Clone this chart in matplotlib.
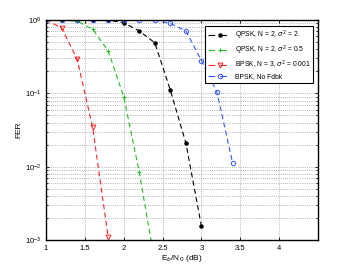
import numpy as np
import matplotlib
matplotlib.use('Agg')
import matplotlib.pyplot as plt

plt.rcParams['font.family'] = ['Liberation Sans', 'DejaVu Sans']

# Eb/N0 (dB) and frame error rates
snr_qpsk2 = [1.0, 1.2, 1.4, 1.6, 1.8, 2.0, 2.2, 2.4, 2.6, 2.8, 3.0]
fer_qpsk2 = [1.0, 1.0, 1.0, 1.0, 1.0, 0.92, 0.71, 0.49, 0.111, 0.021, 0.00155]

snr_qpsk05 = [1.0, 1.2, 1.4, 1.6, 1.8, 2.0, 2.2, 2.4]
fer_qpsk05 = [1.0, 1.0, 0.97, 0.75, 0.38, 0.09, 0.0085, 0.0005]

snr_bpsk3 = [1.0, 1.2, 1.4, 1.6, 1.8]
fer_bpsk3 = [1.0, 0.785, 0.295, 0.0345, 0.0011]

snr_nofb = [1.0, 1.2, 1.4, 1.6, 1.8, 2.0, 2.2, 2.4, 2.6, 2.8, 3.0, 3.2, 3.4]
fer_nofb = [1.0, 1.0, 1.0, 1.0, 1.0, 1.0, 1.0, 1.0, 0.9, 0.71, 0.28, 0.104, 0.0114]

labels = ['QPSK, N = 2, $\\sigma^2$ = 2',
          'QPSK, N = 2, $\\sigma^2$ = 0.5',
          'BPSK, N = 3, $\\sigma^2$ = 0.001',
          'BPSK, No Fdbk']

fig = plt.figure(figsize=(3.51, 2.71), dpi=100)
ax = fig.add_axes([0.131, 0.114, 0.775, 0.812])

dash = (4.5, 3)
ax.semilogy(snr_qpsk2, fer_qpsk2, 'k--', dashes=dash, marker='.', ms=4.5, lw=0.8, label=labels[0])
ax.semilogy(snr_qpsk05, fer_qpsk05, '--', dashes=dash, color='#22bb22', marker='+', ms=3.5, mew=0.8, lw=0.8, label=labels[1])
ax.semilogy(snr_bpsk3, fer_bpsk3, '--', dashes=dash, color='#ff2222', marker='v', ms=3.5, mfc='none', mew=0.7, lw=0.8, label=labels[2])
ax.semilogy(snr_nofb, fer_nofb, '--', dashes=dash, color='#3355ff', marker='o', ms=3.2, mfc='none', mew=0.7, lw=0.8, label=labels[3])

ax.set_xlim(1, 4.5)
ax.set_ylim(1e-3, 1)
ax.set_xticks([1, 1.5, 2, 2.5, 3, 3.5, 4])
ax.set_xticklabels(['1', '1.5', '2', '2.5', '3', '3.5', '4'])
ax.grid(True, which='major', ls=':', color='#999999', lw=0.6)
ax.grid(True, which='minor', axis='y', ls=':', color='#999999', lw=0.6)
ax.tick_params(which='both', direction='in', labelsize=5.5, top=True, right=True, length=2.5, width=0.6)
ax.tick_params(which='minor', length=1.5)
for s in ax.spines.values():
    s.set_linewidth(1.0)

ax.set_xlabel('E$_b$/N$_0$ (dB)', fontsize=6, labelpad=1)
ax.set_ylabel('FER', fontsize=6, labelpad=2)

leg = ax.legend(loc='upper right', fontsize=4.9, fancybox=False, framealpha=1,
                edgecolor='black', handlelength=3.4, borderpad=0.4, labelspacing=0.3,
                handletextpad=0.5, bbox_to_anchor=(0.995, 0.99))
leg.get_frame().set_linewidth(0.8)
for ln in leg.get_lines():
    ln.set_dashes((6, 4.6))

fig.savefig('out.png', dpi=100)
